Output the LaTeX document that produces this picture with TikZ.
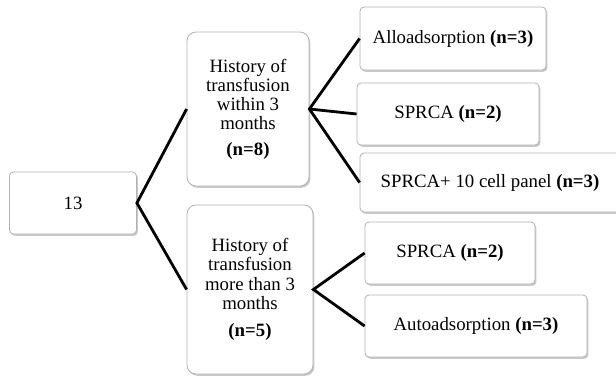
\documentclass[tikz,border=0pt]{standalone}
\usepackage{fontspec}
\setmainfont{Liberation Serif}
\usepackage{tikz}
\usetikzlibrary{shadows}

\begin{document}
\begin{tikzpicture}[
  x=0.5pt,y=-0.5pt,
  font=\fontsize{9.4}{9.6}\selectfont,
  box/.style={draw=black!30,line width=0.4pt,rounded corners=2pt,fill=white,
              align=center,inner sep=0pt,
              drop shadow={shadow xshift=0.7pt,shadow yshift=-0.9pt,
                           opacity=0.3,fill=black!70}},
  grp/.style={box,rounded corners=4.5pt},
  link/.style={line width=1.4pt,black}]

\useasboundingbox (0,0) rectangle (616,377);

% ---- nodes ------------------------------------------------------------
\node[box,minimum width=63.5pt,minimum height=31pt] (total) at (73,203) {13};
\node[grp,minimum width=61pt,minimum height=77pt] (within) at (248,109)
  {History of\\transfusion\\within 3\\months\\[3pt]\textbf{(n=8)}};
\node[grp,minimum width=63pt,minimum height=84.5pt] (beyond) at (250,289.5)
  {History of\\transfusion\\more than 3\\months\\[4pt]\textbf{(n=5)}};
\node[box,minimum width=93pt,minimum height=31.5pt] (allo) at (453,38.5)
  {Alloadsorption \textbf{(n=3)}};
\node[box,minimum width=91pt,minimum height=31pt] (sprcaA) at (448,114)
  {SPRCA \textbf{(n=2)}};
\node[box,minimum width=130pt,minimum height=29.5pt] (panel) at (490,182.5)
  {SPRCA+ 10 cell panel \textbf{(n=3)}};
\node[box,minimum width=85pt,minimum height=31pt] (sprcaB) at (450,253)
  {SPRCA \textbf{(n=2)}};
\node[box,minimum width=111pt,minimum height=31pt] (auto) at (476,326)
  {Autoadsorption \textbf{(n=3)}};

% ---- edges ------------------------------------------------------------
\draw[link] (within.west) -- (total.east) -- (beyond.west);
\draw[link] (allo.west) -- (within.east) -- (panel.west);
\draw[link] (within.east) -- (sprcaA.west);
\draw[link] (sprcaB.west) -- (beyond.east) -- (auto.west);
\end{tikzpicture}
\end{document}
